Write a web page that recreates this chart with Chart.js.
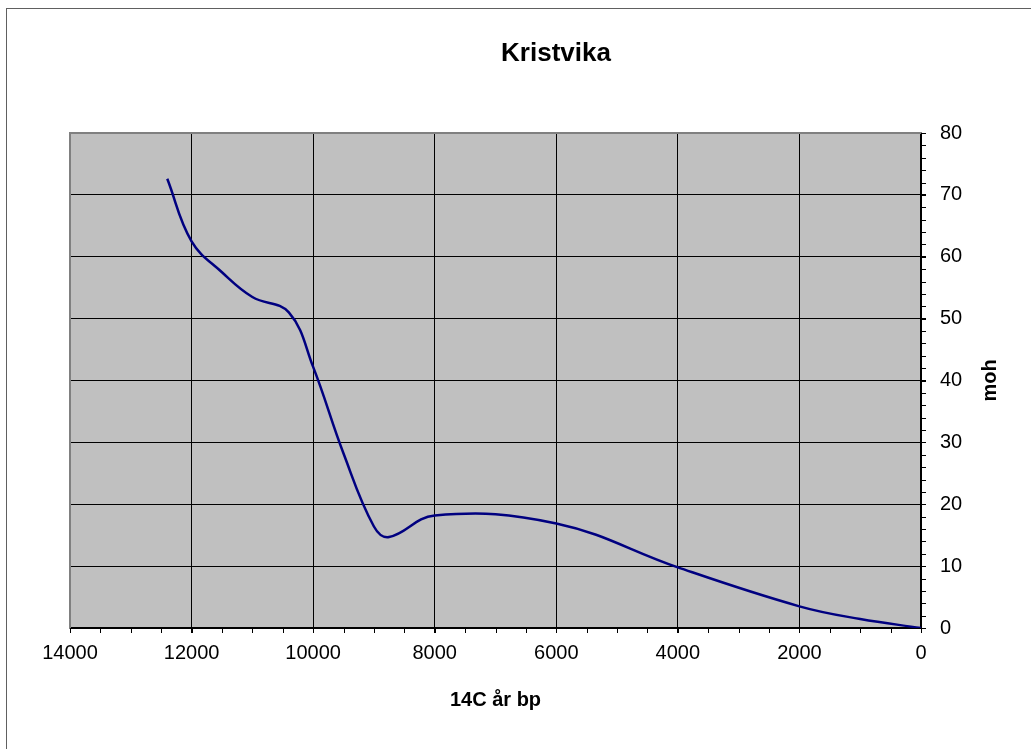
<!DOCTYPE html>
<html>
<head>
<meta charset="utf-8">
<script src="https://cdn.jsdelivr.net/npm/chart.js@4"></script>
<style>
    body { margin: 0; background: #fff; overflow: hidden; }
    #wrap { position: relative; width: 1031px; height: 749px; }
    #frame {
        position: absolute; left: 6px; top: 8px;
        width: 1100px; height: 800px;
        border: 1px solid #606060;
    }
    canvas { position: absolute; left: 0; top: 0; }
</style>
</head>
<body>
<div id="wrap">
    <div id="frame"></div>
    <canvas id="kristvika" width="1031" height="749"></canvas>
</div>
<script>
// ===== DATA =====
const chartTitle = 'Kristvika';
const xTitle = '14C år bp';
const yTitle = 'moh';

// 14C years BP and height above sea level (m)
const years   = [12400, 12000, 11500, 11000, 10400, 10000, 9500, 9000, 8750, 8000, 6000, 4000, 2000, 1000, 0];
const heights = [72.6,  62.5,  57.5,  53.5,  51.0,  42.2,  28.2, 16.4, 14.7, 18.2, 16.9, 9.8,  3.5,  1.45, 0];

const xMin = 0, xMax = 14000, xStep = 2000, xMinorStep = 500;
const yMin = 0, yMax = 80, yStep = 10, yMinorStep = 2;

const FONT = "'Liberation Sans', Arial, sans-serif";

// ===== PLUGIN: background, frame, minor ticks, titles =====
const decorPlugin = {
    id: 'decor',
    beforeDraw(chart) {
        const { ctx, chartArea: a } = chart;
        ctx.save();
        ctx.fillStyle = '#C0C0C0';
        ctx.fillRect(a.left, a.top, a.right - a.left, a.bottom - a.top);
        ctx.restore();
    },
    beforeDatasetsDraw(chart) {
        const { ctx, chartArea: a, scales } = chart;
        ctx.save();
        // grey top and left plot edges
        ctx.strokeStyle = '#808080';
        ctx.lineWidth = 2;
        ctx.beginPath();
        ctx.moveTo(a.left, a.bottom);
        ctx.lineTo(a.left, a.top);
        ctx.lineTo(a.right, a.top);
        ctx.stroke();

        // minor ticks
        ctx.strokeStyle = '#000';
        ctx.lineWidth = 1;
        ctx.beginPath();
        for (let v = xMin; v <= xMax; v += xMinorStep) {
            const px = Math.round(scales.x.getPixelForValue(v)) + 0.5;
            ctx.moveTo(px, a.bottom);
            ctx.lineTo(px, a.bottom + 5);
        }
        for (let v = yMin; v <= yMax; v += yMinorStep) {
            const py = Math.round(scales.y.getPixelForValue(v)) + 0.5;
            ctx.moveTo(a.right, py);
            ctx.lineTo(a.right + 5, py);
        }
        ctx.stroke();
        ctx.restore();
    },
    afterDraw(chart) {
        const { ctx, chartArea: a } = chart;
        ctx.save();
        ctx.fillStyle = '#000';
        ctx.textAlign = 'center';
        ctx.textBaseline = 'middle';

        ctx.font = 'bold 26px ' + FONT;
        ctx.fillText(chartTitle, 556, 54);

        ctx.font = 'bold 20px ' + FONT;
        ctx.fillText(xTitle, (a.left + a.right) / 2, 700);

        ctx.translate(990, (a.top + a.bottom) / 2);
        ctx.rotate(-Math.PI / 2);
        ctx.fillText(yTitle, 0, 0);
        ctx.restore();
    }
};

// ===== CHART =====
document.addEventListener('DOMContentLoaded', function() {
    const points = years.map((yr, i) => ({ x: yr, y: heights[i] }));

    new Chart(document.getElementById('kristvika'), {
        type: 'line',
        data: {
            datasets: [{
                data: points,
                borderColor: '#000080',
                borderWidth: 2.5,
                pointRadius: 0,
                tension: 0.4,
                fill: false
            }]
        },
        options: {
            responsive: false,
            animation: false,
            devicePixelRatio: 1,
            layout: { padding: { left: 70, top: 133, right: 0, bottom: 0 } },
            plugins: {
                legend: { display: false },
                tooltip: { enabled: false },
                title: { display: false }
            },
            scales: {
                x: {
                    type: 'linear',
                    position: 'bottom',
                    reverse: true,
                    min: xMin,
                    max: xMax,
                    afterFit: s => { s.height = 121; },
                    ticks: {
                        stepSize: xStep,
                        color: '#000',
                        padding: 8,
                        maxRotation: 0,
                        font: { family: FONT, size: 20 },
                        callback: v => String(v)
                    },
                    grid: { color: '#000', lineWidth: 1, tickLength: 5 },
                    border: { color: '#000', width: 1.5 }
                },
                y: {
                    type: 'linear',
                    position: 'right',
                    min: yMin,
                    max: yMax,
                    afterFit: s => { s.width = 110; },
                    ticks: {
                        stepSize: yStep,
                        color: '#000',
                        padding: 14,
                        font: { family: FONT, size: 20 },
                        callback: v => String(v)
                    },
                    grid: { color: '#000', lineWidth: 1, tickLength: 5 },
                    border: { color: '#000', width: 1.5 }
                }
            }
        },
        plugins: [decorPlugin]
    });
});
</script>
</body>
</html>
